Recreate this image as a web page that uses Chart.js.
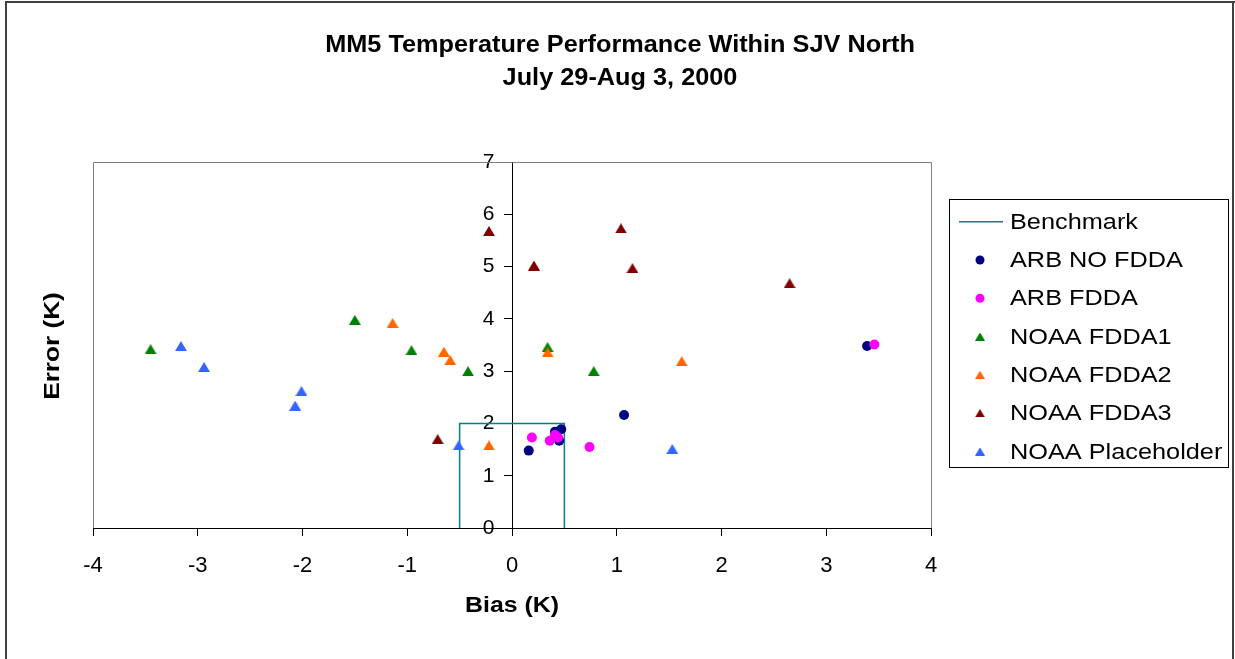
<!DOCTYPE html>
<html>
<head>
<meta charset="utf-8">
<script src="https://cdn.jsdelivr.net/npm/chart.js@4.4.1/dist/chart.umd.min.js"></script>
<style>
  html, body { margin: 0; padding: 0; background: #fff; }
  #wrap { width: 1235px; height: 659px; }
</style>
</head>
<body>
<div id="wrap"><canvas id="grafico" width="1235" height="659"></canvas></div>
<script>
const tituloLineas = ['MM5 Temperature Performance Within SJV North', 'July 29-Aug 3, 2000'];
const tituloX = 'Bias (K)';
const tituloY = 'Error (K)';

const nombresSeries = ['Benchmark', 'ARB NO FDDA', 'ARB FDDA', 'NOAA FDDA1', 'NOAA FDDA2', 'NOAA FDDA3', 'NOAA Placeholder'];

const benchmarkX = [-0.5, -0.5, 0.5, 0.5];
const benchmarkY = [0, 2, 2, 0];

const arbNoFddaX = [0.16, 0.41, 0.47, 0.45, 1.07, 3.39];
const arbNoFddaY = [1.48, 1.84, 1.89, 1.67, 2.16, 3.48];

const arbFddaX = [0.19, 0.36, 0.41, 0.44, 0.74, 3.46];
const arbFddaY = [1.73, 1.67, 1.78, 1.73, 1.55, 3.51];

const noaa1X = [-3.45, -1.50, -0.96, -0.42, 0.34, 0.78];
const noaa1Y = [3.42, 3.98, 3.40, 3.00, 3.46, 3.00];

const noaa2X = [-1.14, -0.65, -0.59, -0.22, 0.34, 1.62];
const noaa2Y = [3.92, 3.37, 3.21, 1.58, 3.36, 3.19];

const noaa3X = [-0.71, -0.22, 0.21, 1.04, 1.15, 2.65];
const noaa3Y = [1.70, 5.68, 5.02, 5.73, 4.97, 4.68];

const placeholderX = [-3.16, -2.94, -2.07, -2.01, -0.51, 1.53];
const placeholderY = [3.48, 3.08, 2.34, 2.62, 1.58, 1.51];

const colores = ['#008080', '#000080', '#FF00FF', '#008000', '#FF6600', '#800000', '#3366FF'];

const fuente = 'Liberation Sans, Arial, sans-serif';
const estiramiento = 1.13; // el texto original sale algo mas ancho que Arial

function puntos(xs, ys) {
    return xs.map((x, i) => ({ x: x, y: ys[i] }));
}

function marcaTriangulo(color) {
    const c = document.createElement('canvas');
    c.width = 12; c.height = 10;
    const g = c.getContext('2d');
    g.fillStyle = color;
    g.beginPath();
    g.moveTo(6, 0); g.lineTo(12, 10); g.lineTo(0, 10);
    g.closePath(); g.fill();
    return c;
}

function serieMarcas(i, xs, ys, triangulo) {
    return {
        label: nombresSeries[i],
        data: puntos(xs, ys),
        backgroundColor: colores[i],
        borderColor: colores[i],
        borderWidth: 0,
        pointStyle: triangulo ? marcaTriangulo(colores[i]) : 'circle',
        pointRadius: 5,
        showLine: false,
        order: 10 - i
    };
}

function textoEstirado(ctx, texto, x, y, sx, angulo) {
    ctx.save();
    ctx.translate(x, y);
    if (angulo) ctx.rotate(angulo);
    ctx.scale(sx, 1);
    ctx.fillText(texto, 0, 0);
    ctx.restore();
}

// borde del area de trazado, leyenda y textos
const decorado = {
    id: 'decorado',
    beforeDatasetsDraw(chart) {
        const { ctx, chartArea: a } = chart;
        ctx.save();
        ctx.strokeStyle = '#808080';
        ctx.lineWidth = 1;
        ctx.beginPath();
        ctx.moveTo(Math.round(a.left) + 0.5, Math.round(a.bottom));
        ctx.lineTo(Math.round(a.left) + 0.5, Math.round(a.top) + 0.5);
        ctx.lineTo(Math.round(a.right) + 0.5, Math.round(a.top) + 0.5);
        ctx.lineTo(Math.round(a.right) + 0.5, Math.round(a.bottom));
        ctx.stroke();
        ctx.restore();
    },
    afterDraw(chart) {
        const ctx = chart.ctx;
        ctx.save();
        // marco exterior
        ctx.fillStyle = '#404040';
        ctx.fillRect(5, 1, 2, 659);
        ctx.fillRect(5, 1, 1230, 2);
        ctx.fillRect(1232, 1, 2, 659);

        ctx.fillStyle = '#000';
        ctx.textAlign = 'center';
        ctx.textBaseline = 'middle';
        ctx.font = 'bold 23px ' + fuente;
        textoEstirado(ctx, tituloLineas[0], 620, 46, 1.1);
        textoEstirado(ctx, tituloLineas[1], 620, 79, 1.1);

        ctx.font = 'bold 22px ' + fuente;
        textoEstirado(ctx, tituloX, chart.scales.x.getPixelForValue(0), 606, estiramiento);
        textoEstirado(ctx, tituloY, 53, 346, 1.19, -Math.PI / 2);

        // leyenda
        ctx.strokeStyle = '#000';
        ctx.lineWidth = 1;
        ctx.strokeRect(949.5, 199.5, 279, 268);
        ctx.font = '22px ' + fuente;
        ctx.textAlign = 'left';
        chart.data.datasets.forEach((ds, i) => {
            const y = 221.7 + i * 38.3;
            if (i === 0) {
                ctx.strokeStyle = ds.borderColor;
                ctx.lineWidth = 1.5;
                ctx.beginPath(); ctx.moveTo(959, y); ctx.lineTo(1003, y); ctx.stroke();
            } else if (ds.pointStyle === 'circle') {
                ctx.fillStyle = ds.backgroundColor;
                ctx.beginPath(); ctx.arc(980, y, 4.5, 0, Math.PI * 2); ctx.fill();
            } else {
                ctx.drawImage(ds.pointStyle, 980 - 5, y - 4, 10, 8);
            }
            ctx.fillStyle = '#000';
            textoEstirado(ctx, ds.label, 1010, y + 1, 1.15);
        });
        ctx.restore();
    }
};

new Chart(document.getElementById('grafico'), {
    type: 'scatter',
    data: {
        datasets: [
            {
                label: nombresSeries[0],
                data: puntos(benchmarkX, benchmarkY),
                showLine: true,
                borderColor: colores[0],
                backgroundColor: colores[0],
                borderWidth: 1.5,
                pointRadius: 0,
                order: 10
            },
            serieMarcas(1, arbNoFddaX, arbNoFddaY, false),
            serieMarcas(2, arbFddaX, arbFddaY, false),
            serieMarcas(3, noaa1X, noaa1Y, true),
            serieMarcas(4, noaa2X, noaa2Y, true),
            serieMarcas(5, noaa3X, noaa3Y, true),
            serieMarcas(6, placeholderX, placeholderY, true)
        ]
    },
    options: {
        responsive: false,
        animation: false,
        layout: { padding: { left: 93, top: 162, right: 304, bottom: 0 } },
        plugins: { legend: { display: false }, tooltip: { enabled: false } },
        scales: {
            x: {
                type: 'linear',
                min: -4, max: 4,
                ticks: { stepSize: 1, color: '#000', font: { family: fuente, size: 22 }, padding: 17 },
                grid: { drawOnChartArea: false, tickLength: 8, color: '#000' },
                border: { color: '#000', width: 1 },
                afterFit(scale) { scale.height = 131; }
            },
            y: {
                type: 'linear',
                position: { x: 0 },
                min: 0, max: 7,
                // el eje va en x=0; los espacios apartan las etiquetas a la izquierda de las marcas
                ticks: { stepSize: 1, color: '#000', font: { family: fuente, size: 21 }, callback: v => v + '   ' },
                grid: { drawOnChartArea: false, tickLength: 8, color: '#000' },
                border: { color: '#000', width: 1 }
            }
        }
    },
    plugins: [decorado]
});
</script>
</body>
</html>
